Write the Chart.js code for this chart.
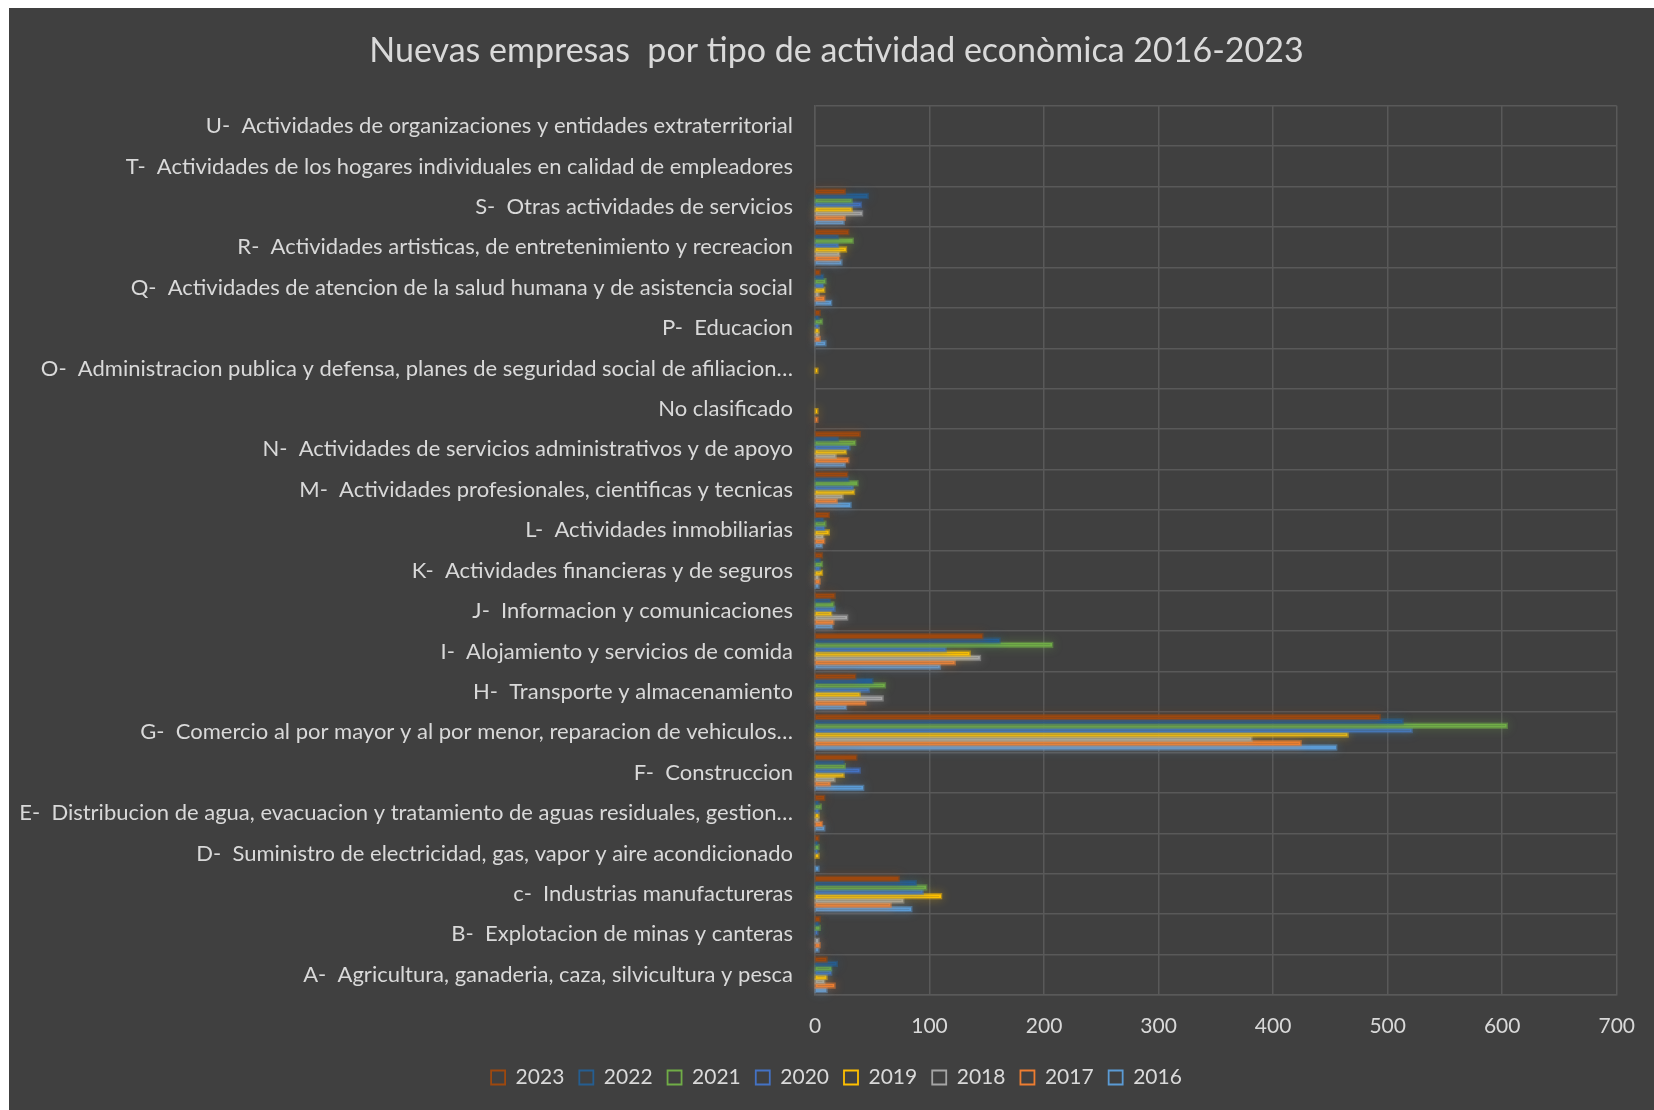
<!DOCTYPE html>
<html>
<head>
<meta charset="utf-8">
<script src="https://cdn.jsdelivr.net/npm/chart.js@4"></script>
<style>
  html, body { margin: 0; padding: 0; background: #ffffff; }
  #wrap { position: absolute; left: 9px; top: 8px; width: 1645px; height: 1102px; background: #404040; }
</style>
</head>
<body>
<div id="wrap"><canvas id="chart"></canvas></div>
<script>
// Categorias (de arriba hacia abajo, como en el grafico)
const categories = [
  "U-  Actividades de organizaciones y entidades extraterritorial",
  "T-  Actividades de los hogares individuales en calidad de empleadores",
  "S-  Otras actividades de servicios",
  "R-  Actividades artisticas, de entretenimiento y recreacion",
  "Q-  Actividades de atencion de la salud humana y de asistencia social",
  "P-  Educacion",
  "O-  Administracion publica y defensa, planes de seguridad social de afiliacion…",
  "No clasificado",
  "N-  Actividades de servicios administrativos y de apoyo",
  "M-  Actividades profesionales, cientificas y tecnicas",
  "L-  Actividades inmobiliarias",
  "K-  Actividades financieras y de seguros",
  "J-  Informacion y comunicaciones",
  "I-  Alojamiento y servicios de comida",
  "H-  Transporte y almacenamiento",
  "G-  Comercio al por mayor y al por menor, reparacion de vehiculos…",
  "F-  Construccion",
  "E-  Distribucion de agua, evacuacion y tratamiento de aguas residuales, gestion…",
  "D-  Suministro de electricidad, gas, vapor y aire acondicionado",
  "c-  Industrias manufactureras",
  "B-  Explotacion de minas y canteras",
  "A-  Agricultura, ganaderia, caza, silvicultura y pesca"
];

// Valores por año (mismo orden que las categorias)
const y2023 = [0, 0, 26, 29, 4, 4, 0, 0, 39, 28, 12, 6, 17, 146, 35, 493, 36, 8, 3, 73, 4, 10];
const y2022 = [0, 0, 46, 20, 7, 3, 0, 0, 20, 29, 7, 4, 13, 161, 50, 513, 25, 3, 2, 88, 3, 19];
const y2021 = [0, 0, 32, 33, 9, 6, 0, 0, 35, 37, 9, 6, 16, 207, 61, 604, 26, 5, 3, 97, 4, 14];
const y2020 = [0, 0, 40, 20, 7, 3, 0, 0, 30, 33, 8, 4, 17, 114, 47, 521, 39, 3, 2, 94, 2, 14];
const y2019 = [0, 0, 32, 27, 8, 3, 2, 2, 27, 34, 12, 6, 14, 135, 39, 465, 25, 3, 3, 110, 1, 10];
const y2018 = [0, 0, 41, 21, 3, 3, 0, 0, 18, 24, 7, 3, 28, 144, 59, 381, 17, 3, 1, 77, 3, 8];
const y2017 = [0, 0, 26, 21, 8, 4, 0, 2, 29, 19, 8, 4, 16, 122, 44, 424, 13, 6, 1, 66, 4, 17];
const y2016 = [0, 0, 25, 23, 14, 9, 0, 0, 26, 31, 6, 3, 15, 109, 27, 455, 42, 8, 3, 84, 3, 10];

const years = ["2023", "2022", "2021", "2020", "2019", "2018", "2017", "2016"];
const series = [y2023, y2022, y2021, y2020, y2019, y2018, y2017, y2016];
const colors = ["#9E480E", "#255E91", "#70AD47", "#4472C4", "#FFC000", "#A5A5A5", "#ED7D31", "#5B9BD5"];

const textColor = "#D9D9D9";
const gridColor = "#595959";
const fontFamily = "Lato, 'Open Sans', sans-serif";

function rgba(hex, a) {
    const n = parseInt(hex.slice(1), 16);
    return `rgba(${(n >> 16) & 255}, ${(n >> 8) & 255}, ${n & 255}, ${a})`;
}

// Efecto de brillo alrededor de las barras
const glowPlugin = {
    id: 'glow',
    beforeDatasetDraw(chart, args) {
        const ctx = chart.ctx;
        const color = colors[args.index];
        ctx.save();
        ctx.shadowColor = rgba(color, 0.9);
        ctx.shadowBlur = 10;
        ctx.strokeStyle = rgba(color, 0.5);
        ctx.lineWidth = 2.5;
        args.meta.data.forEach(bar => {
            const w = Math.abs(bar.x - bar.base);
            if (w < 0.5) return;
            ctx.strokeRect(Math.min(bar.x, bar.base), bar.y - bar.height / 2, w, bar.height);
        });
        ctx.restore();
    }
};

// Centrar titulo y leyenda un poco mas a la derecha, como en el original
const shiftPlugin = {
    id: 'shift',
    afterLayout(chart) {
        chart.titleBlock.left += 47;
        chart.legend.left += 47;
    }
};

const datasets = years.map((year, i) => ({
    label: year,
    data: series[i],
    backgroundColor: 'rgba(0,0,0,0)',
    borderColor: colors[i],
    borderWidth: 1.8,
    borderSkipped: false,
    categoryPercentage: 0.86,
    barPercentage: 0.88
}));

new Chart(document.getElementById("chart").getContext("2d"), {
    type: 'bar',
    data: { labels: categories, datasets: datasets },
    plugins: [glowPlugin, shiftPlugin],
    options: {
        indexAxis: 'y',
        responsive: true,
        maintainAspectRatio: false,
        animation: false,
        layout: { padding: { left: 0, right: 37, top: 0, bottom: 12 } },
        plugins: {
            tooltip: { enabled: false },
            title: {
                display: true,
                text: "Nuevas empresas  por tipo de actividad econòmica 2016-2023",
                color: textColor,
                font: { family: fontFamily, size: 34, weight: 'normal' },
                padding: { top: 23, bottom: 34 }
            },
            legend: {
                position: 'bottom',
                labels: {
                    color: textColor,
                    font: { family: fontFamily, size: 21 },
                    boxWidth: 14,
                    boxHeight: 14,
                    padding: 15
                }
            }
        },
        scales: {
            x: {
                min: 0,
                max: 700,
                ticks: { stepSize: 100, color: textColor, font: { family: fontFamily, size: 21 }, padding: 19 },
                grid: { color: gridColor, lineWidth: 1.5, drawTicks: false },
                border: { color: gridColor, width: 1.5 },
                afterFit(scale) { scale.height = 57; }
            },
            y: {
                ticks: { color: textColor, font: { family: fontFamily, size: 22 }, padding: 22, autoSkip: false },
                grid: { color: gridColor, lineWidth: 1.5, drawTicks: false },
                border: { color: gridColor, width: 1.5 },
                afterFit(scale) { scale.width = 806; }
            }
        }
    }
});
</script>
</body>
</html>
